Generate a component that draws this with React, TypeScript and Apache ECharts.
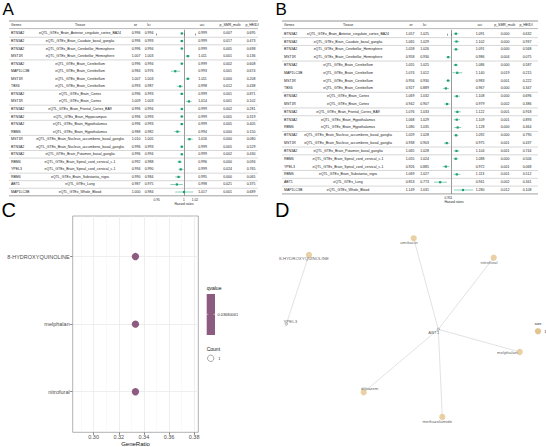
import React, { useEffect, useRef } from 'react';
import * as echarts from 'echarts';

const FONT = "'Liberation Sans', Arial, Helvetica, sans-serif";

// ---------------- Panel A (forest table) ----------------
const genesA = ['BTN3A2', 'BTN3A2', 'BTN3A2', 'MST1R', 'BTN3A2', 'MAP1LC3B', 'MST1R', 'TBX6', 'BTN3A2', 'MST1R', 'BTN3A2', 'BTN3A2', 'BTN3A2', 'RBM6', 'MST1R', 'BTN3A2', 'BTN3A2', 'RBM6', 'YPEL3', 'RBM6', 'ABT1', 'MAP1LC3B'];
const tissueA = [
  'eQTL_GTEx_Brain_Anterior_cingulate_cortex_BA24',
  'eQTL_GTEx_Brain_Caudate_basal_ganglia',
  'eQTL_GTEx_Brain_Cerebellar_Hemisphere',
  'eQTL_GTEx_Brain_Cerebellar_Hemisphere',
  'eQTL_GTEx_Brain_Cerebellum',
  'eQTL_GTEx_Brain_Cerebellum',
  'eQTL_GTEx_Brain_Cerebellum',
  'eQTL_GTEx_Brain_Cerebellum',
  'eQTL_GTEx_Brain_Cortex',
  'eQTL_GTEx_Brain_Cortex',
  'eQTL_GTEx_Brain_Frontal_Cortex_BA9',
  'eQTL_GTEx_Brain_Hippocampus',
  'eQTL_GTEx_Brain_Hypothalamus',
  'eQTL_GTEx_Brain_Hypothalamus',
  'eQTL_GTEx_Brain_Nucleus_accumbens_basal_ganglia',
  'eQTL_GTEx_Brain_Nucleus_accumbens_basal_ganglia',
  'eQTL_GTEx_Brain_Putamen_basal_ganglia',
  'eQTL_GTEx_Brain_Spinal_cord_cervical_c-1',
  'eQTL_GTEx_Brain_Spinal_cord_cervical_c-1',
  'eQTL_GTEx_Brain_Substantia_nigra',
  'eQTL_GTEx_Lung',
  'eQTL_GTEx_Whole_Blood',
];
const orA = [0.996, 0.996, 0.996, 1.007, 0.996, 0.984, 1.007, 0.993, 0.996, 1.009, 0.996, 0.996, 0.996, 0.988, 1.010, 0.996, 0.996, 0.992, 0.994, 0.990, 0.987, 1.000];
const lciA = [0.994, 0.993, 0.994, 1.003, 0.994, 0.976, 1.003, 0.987, 0.993, 1.003, 0.994, 0.993, 0.993, 0.982, 1.005, 0.993, 0.994, 0.988, 0.990, 0.984, 0.975, 0.984];
const uciA = [0.999, 0.999, 0.999, 1.011, 0.999, 0.993, 1.011, 0.998, 0.999, 1.014, 0.999, 0.999, 0.999, 0.994, 1.016, 0.999, 0.999, 0.996, 0.999, 0.995, 0.998, 1.017];
const pSmrA = [0.007, 0.017, 0.005, 0.001, 0.002, 0.001, 0.000, 0.012, 0.001, 0.001, 0.002, 0.005, 0.005, 0.000, 0.000, 0.005, 0.002, 0.000, 0.024, 0.000, 0.021, 0.001];
const pHeidiA = [0.695, 0.473, 0.698, 0.136, 0.608, 0.674, 0.208, 0.438, 0.871, 0.102, 0.281, 0.319, 0.405, 0.150, 0.080, 0.529, 0.430, 0.094, 0.765, 0.065, 0.375, 0.689];
const ticksA = [0.95, 1, 1.02];

// ---------------- Panel B (forest table) ----------------
const genesB = ['BTN3A2', 'BTN3A2', 'BTN3A2', 'MST1R', 'BTN3A2', 'MAP1LC3B', 'MST1R', 'TBX6', 'BTN3A2', 'MST1R', 'BTN3A2', 'BTN3A2', 'RBM6', 'BTN3A2', 'MST1R', 'BTN3A2', 'RBM6', 'YPEL3', 'RBM6', 'ABT1', 'MAP1LC3B'];
const tissueB = [
  'eQTL_GTEx_Brain_Anterior_cingulate_cortex_BA24',
  'eQTL_GTEx_Brain_Caudate_basal_ganglia',
  'eQTL_GTEx_Brain_Cerebellar_Hemisphere',
  'eQTL_GTEx_Brain_Cerebellar_Hemisphere',
  'eQTL_GTEx_Brain_Cerebellum',
  'eQTL_GTEx_Brain_Cerebellum',
  'eQTL_GTEx_Brain_Cerebellum',
  'eQTL_GTEx_Brain_Cerebellum',
  'eQTL_GTEx_Brain_Cortex',
  'eQTL_GTEx_Brain_Cortex',
  'eQTL_GTEx_Brain_Frontal_Cortex_BA9',
  'eQTL_GTEx_Brain_Hypothalamus',
  'eQTL_GTEx_Brain_Hypothalamus',
  'eQTL_GTEx_Brain_Nucleus_accumbens_basal_ganglia',
  'eQTL_GTEx_Brain_Nucleus_accumbens_basal_ganglia',
  'eQTL_GTEx_Brain_Putamen_basal_ganglia',
  'eQTL_GTEx_Brain_Spinal_cord_cervical_c-1',
  'eQTL_GTEx_Brain_Spinal_cord_cervical_c-1',
  'eQTL_GTEx_Brain_Substantia_nigra',
  'eQTL_GTEx_Lung',
  'eQTL_GTEx_Whole_Blood',
];
const orB = [1.057, 1.065, 1.058, 0.958, 1.055, 1.074, 0.956, 0.927, 1.069, 0.942, 1.076, 1.068, 1.080, 1.059, 0.938, 1.065, 1.055, 0.926, 1.069, 0.853, 1.149];
const lciB = [1.025, 1.029, 1.026, 0.930, 1.025, 1.012, 0.930, 0.889, 1.032, 0.907, 1.033, 1.029, 1.035, 1.028, 0.903, 1.028, 1.024, 0.885, 1.027, 0.773, 1.031];
const uciB = [1.091, 1.102, 1.091, 0.986, 1.086, 1.140, 0.983, 0.967, 1.108, 0.979, 1.122, 1.109, 1.128, 1.092, 0.975, 1.104, 1.088, 0.972, 1.113, 0.941, 1.280];
const pSmrB = [0.000, 0.000, 0.000, 0.004, 0.000, 0.019, 0.001, 0.000, 0.000, 0.002, 0.001, 0.001, 0.000, 0.000, 0.001, 0.001, 0.000, 0.001, 0.001, 0.002, 0.012];
const pHeidiB = [0.632, 0.937, 0.568, 0.075, 0.587, 0.215, 0.222, 0.347, 0.696, 0.386, 0.918, 0.893, 0.464, 0.790, 0.437, 0.744, 0.506, 0.068, 0.512, 0.341, 0.108];
const ticksB = [0.95, 1];

const tableHeaders = ['Genes', 'Tissue', 'or', 'lci', 'uci', 'p_SMR_multi', 'p_HEIDI'];

// ---------------- Panel C (dot plot) ----------------
const drugs = ['8-HYDROXYQUINOLINE', 'melphalan', 'nitrofural'];
const geneRatio = [0.3333, 0.3333, 0.3333];
const qvalues = [0.03680061, 0.03680061, 0.03680061];
const counts = [1, 1, 1];
const ratioTicks = [0.30, 0.32, 0.34, 0.36, 0.38];
const ratioMinor = [0.29, 0.31, 0.33, 0.35, 0.37];

// ---------------- Panel D (network) ----------------
const netNodes = ['8-HYDROXYQUINOLINE', 'YPEL3', 'amikacin', 'nitrofural', 'ABT1', 'melphalan', 'diltiazem', 'methazolamide'];
const netIsGene = [false, true, false, false, true, false, false, false];
const netX = [36, 13.3, 140.7, 220.7, 165.3, 246.7, 90.7, 169.3];
const netY = [40, 109, 23.3, 42.7, 114.3, 137, 177.3, 202];
const netEdges: [string, string][] = [
  ['8-HYDROXYQUINOLINE', 'YPEL3'],
  ['ABT1', 'amikacin'],
  ['ABT1', 'nitrofural'],
  ['ABT1', 'melphalan'],
  ['ABT1', 'diltiazem'],
  ['ABT1', 'methazolamide'],
];
// label offsets (style only)
const netLabelOffset: [number, number][] = [[-5, 3.7], [4, -2.7], [-4.7, 4.4], [-4.7, 4.3], [-4.6, 3.4], [-12.5, 0], [6, -3.6], [-5, 4]];

const GREEN = '#1B9E77';
const MAUVE = '#8D5B7F';
const TAN = '#E3C48E';

const tx = (x: number, y: number, text: string, align = 'center', size = 3.5, fill = '#222') => ({
  type: 'text',
  x,
  y,
  silent: true,
  style: { text, fontSize: size, fontFamily: FONT, fill, align, verticalAlign: 'middle' },
});

type Rows = { genes: string[]; tissue: string[]; or: number[]; lci: number[]; uci: number[]; smr: number[]; heidi: number[]; ticks: number[] };
type Layout = {
  tableLeft: number; tableRight: number; genesX: number; tissueX: number; orX: number; lciX: number; uciX: number; smrX: number; heidiX: number;
  hdr: number[]; headerY: number; topLine: number; headLine: number;
  gridLeft: number; gridW: number; gridTop: number; rowStep: number; xMin: number; xMax: number;
};

function forestParts(idx: number, rows: Rows, L: Layout) {
  const n = rows.genes.length;
  const fmt = (v: number) => v.toFixed(3);
  const grid = { left: L.gridLeft, top: L.gridTop, width: L.gridW, height: L.rowStep * n, containLabel: false, outerBoundsMode: 'none' };
  const xAxis = {
    gridIndex: idx,
    type: 'value',
    min: L.xMin,
    max: L.xMax,
    axisLine: { show: false },
    splitLine: { show: false },
    axisTick: { show: true, customValues: rows.ticks, length: 2, lineStyle: { color: '#333', width: 0.5 } },
    axisLabel: { show: true, customValues: rows.ticks, formatter: (v: number) => String(v), fontSize: 3.2, color: '#222', fontFamily: FONT, margin: 2.2, hideOverlap: false },
    name: 'Hazard ratios',
    nameLocation: 'middle',
    nameGap: 6.5,
    nameTextStyle: { fontSize: 3.2, color: '#222', fontFamily: FONT },
  };
  const yAxis = { gridIndex: idx, type: 'value', min: -0.5, max: n - 0.5, inverse: true, show: false };
  const textSeries = {
    type: 'custom',
    xAxisIndex: idx,
    yAxisIndex: idx,
    silent: true,
    clip: false,
    data: rows.genes.map((_, i) => [1, i]),
    encode: { x: 0, y: 1 },
    renderItem: (_p: any, api: any) => {
      const i = api.value(1);
      const y = api.coord([1, i])[1];
      const yb = api.coord([1, i + 0.5])[1];
      const c: any[] = [
        tx(L.genesX, y, rows.genes[i], 'left'),
        tx(L.tissueX, y, rows.tissue[i]),
        tx(L.orX, y, fmt(rows.or[i])),
        tx(L.lciX, y, fmt(rows.lci[i])),
        tx(L.uciX, y, fmt(rows.uci[i])),
        tx(L.smrX, y, fmt(rows.smr[i])),
        tx(L.heidiX, y, fmt(rows.heidi[i])),
      ];
      const last = i === n - 1;
      if (last || rows.tissue[i] !== rows.tissue[i + 1]) {
        c.push({
          type: 'line',
          silent: true,
          shape: { x1: L.tableLeft, y1: yb, x2: L.tableRight, y2: yb },
          style: { stroke: last ? '#777' : '#AFAFAF', lineWidth: last ? 0.7 : 0.5 },
        });
      }
      return { type: 'group', children: c };
    },
  };
  const markSeries = {
    type: 'custom',
    xAxisIndex: idx,
    yAxisIndex: idx,
    silent: true,
    clip: false,
    z: 3,
    data: rows.or.map((v, i) => [v, rows.lci[i], rows.uci[i], i]),
    encode: { x: [0, 1, 2], y: 3 },
    renderItem: (_p: any, api: any) => {
      const i = api.value(3);
      const p = api.coord([api.value(0), i]);
      const l = api.coord([api.value(1), i]);
      const u = api.coord([api.value(2), i]);
      const s = 2.2;
      return {
        type: 'group',
        children: [
          { type: 'line', shape: { x1: l[0], y1: l[1], x2: u[0], y2: u[1] }, style: { stroke: GREEN, lineWidth: 0.5 } },
          { type: 'rect', shape: { x: p[0] - s / 2, y: p[1] - s / 2, width: s, height: s }, style: { fill: GREEN } },
        ],
      };
    },
    markLine: {
      silent: true,
      z: 2,
      symbol: ['none', 'none'],
      label: { show: false },
      lineStyle: { color: '#555', width: 0.6, type: 'solid' },
      data: [{ xAxis: 1 }],
    },
  };
  const xs = [L.genesX, L.tissueX, L.hdr[0], L.hdr[1], L.hdr[2], L.hdr[3], L.hdr[4]];
  const graphics: any[] = tableHeaders.map((h, k) => tx(xs[k], L.headerY, h, k === 0 ? 'left' : 'center'));
  graphics.push({ type: 'line', silent: true, shape: { x1: L.tableLeft, y1: L.topLine, x2: L.tableRight, y2: L.topLine }, style: { stroke: '#777', lineWidth: 0.8 } });
  graphics.push({ type: 'line', silent: true, shape: { x1: L.tableLeft, y1: L.headLine, x2: L.tableRight, y2: L.headLine }, style: { stroke: '#888', lineWidth: 0.6 } });
  return { grid, xAxis, yAxis, series: [textSeries, markSeries], graphics };
}

function buildOption() {
  const A = forestParts(
    0,
    { genes: genesA, tissue: tissueA, or: orA, lci: lciA, uci: uciA, smr: pSmrA, heidi: pHeidiA, ticks: ticksA },
    {
      tableLeft: 9, tableRight: 258, genesX: 11, tissueX: 80, orX: 136, lciX: 149, uciX: 202.5, smrX: 227.5, heidiX: 251,
      hdr: [135.5, 149, 202, 230, 252], headerY: 25, topLine: 21, headLine: 28.6,
      gridLeft: 155, gridW: 58, gridTop: 29.7, rowStep: 7.55, xMin: 0.947, xMax: 1.053,
    }
  );
  const B = forestParts(
    1,
    { genes: genesB, tissue: tissueB, or: orB, lci: lciB, uci: uciB, smr: pSmrB, heidi: pHeidiB, ticks: ticksB },
    {
      tableLeft: 282, tableRight: 538, genesX: 284, tissueX: 348, orX: 410, lciX: 424.5, uciX: 480, smrX: 505, heidiX: 527,
      hdr: [411, 424.7, 479.7, 504.7, 526], headerY: 25, topLine: 21, headLine: 28.6,
      gridLeft: 432, gridW: 44, gridTop: 29.8, rowStep: 7.815, xMin: 0.7468, xMax: 1.318,
    }
  );

  // ---- Panel C ----
  const gridC = { left: 72.7, top: 216, width: 125.6, height: 216.3, show: true, borderColor: '#9E9E9E', borderWidth: 0.8, backgroundColor: 'transparent', containLabel: false, outerBoundsMode: 'none' };
  const xAxisC = {
    gridIndex: 2,
    type: 'value',
    min: 0.283333,
    max: 0.383333,
    axisLine: { show: false },
    splitLine: { show: false },
    axisTick: { show: true, customValues: ratioTicks, length: 2.5, lineStyle: { color: '#333', width: 0.6 } },
    axisLabel: { customValues: ratioTicks, formatter: (v: number) => v.toFixed(2), fontSize: 5.5, color: '#4D4D4D', fontFamily: FONT, margin: 2, hideOverlap: false },
    name: 'GeneRatio',
    nameLocation: 'middle',
    nameGap: 8.5,
    nameTextStyle: { fontSize: 6, color: '#111', fontFamily: FONT },
  };
  const yAxisC = {
    gridIndex: 2,
    type: 'value',
    min: 0.4,
    max: 3.6,
    inverse: true,
    axisLine: { show: false },
    splitLine: { show: false },
    axisTick: { show: true, customValues: [1, 2, 3], length: 2.5, lineStyle: { color: '#333', width: 0.6 } },
    axisLabel: { customValues: [1, 2, 3], formatter: (v: number) => drugs[Math.round(v) - 1] ?? '', fontSize: 5.5, color: '#4D4D4D', fontFamily: FONT, margin: 3, hideOverlap: false },
  };
  const gridLinesC = {
    type: 'scatter',
    xAxisIndex: 2,
    yAxisIndex: 2,
    data: [],
    silent: true,
    markLine: {
      silent: true,
      z: 1,
      symbol: ['none', 'none'],
      label: { show: false },
      data: [
        ...ratioMinor.map((v) => ({ xAxis: v, lineStyle: { color: '#F3F3F3', width: 0.5, type: 'solid' } })),
        ...ratioTicks.map((v) => ({ xAxis: v, lineStyle: { color: '#EAEAEA', width: 0.8, type: 'solid' } })),
        ...drugs.map((_, i) => ({ yAxis: i + 1, lineStyle: { color: '#EAEAEA', width: 0.8, type: 'solid' } })),
      ],
    },
  };
  const dotsC = {
    type: 'scatter',
    xAxisIndex: 2,
    yAxisIndex: 2,
    z: 3,
    silent: true,
    symbol: 'circle',
    symbolSize: (v: number[]) => 7.3 * Math.sqrt(counts[Math.round(v[1]) - 1]),
    itemStyle: { color: MAUVE, opacity: 1 },
    data: drugs.map((d, i) => ({ name: d, value: [geneRatio[i], i + 1, qvalues[i]] })),
  };

  // ---- Panel D ----
  const gridD = { left: 273, top: 215, width: 273, height: 232, show: false, containLabel: false, outerBoundsMode: 'none' };
  const xAxisD = { gridIndex: 3, type: 'value', min: 0, max: 273, show: false };
  const yAxisD = { gridIndex: 3, type: 'value', min: 0, max: 232, inverse: true, show: false };
  const edgesD = {
    type: 'lines',
    coordinateSystem: 'cartesian2d',
    xAxisIndex: 3,
    yAxisIndex: 3,
    silent: true,
    z: 1,
    lineStyle: { color: '#CFCFCF', width: 0.6, opacity: 1 },
    data: netEdges.map(([a, b]) => {
      const i = netNodes.indexOf(a);
      const j = netNodes.indexOf(b);
      return { coords: [[netX[i], netY[i]], [netX[j], netY[j]]] };
    }),
  };
  const nodesD = {
    type: 'scatter',
    xAxisIndex: 3,
    yAxisIndex: 3,
    silent: true,
    z: 3,
    clip: false,
    data: netNodes.map((name, i) => ({
      name,
      value: [netX[i], netY[i]],
      symbolSize: netIsGene[i] ? 2.6 : 6.2,
      itemStyle: netIsGene[i] ? { color: '#E0E0E0', borderColor: '#555', borderWidth: 0.4 } : { color: TAN },
      label: {
        show: true,
        formatter: '{b}',
        position: 'inside',
        offset: netLabelOffset[i],
        fontSize: 4.4,
        color: '#333',
        fontFamily: FONT,
      },
    })),
  };

  const graphics: any[] = [
    ...A.graphics,
    ...B.graphics,
    // panel letters
    { type: 'text', x: 2.5, y: 9, silent: true, style: { text: 'A', fontSize: 17, fontFamily: FONT, fill: '#000', verticalAlign: 'middle' } },
    { type: 'text', x: 275.5, y: 9, silent: true, style: { text: 'B', fontSize: 17, fontFamily: FONT, fill: '#000', verticalAlign: 'middle' } },
    { type: 'text', x: 1.5, y: 209.5, silent: true, style: { text: 'C', fontSize: 20, fontFamily: FONT, fill: '#000', verticalAlign: 'middle' } },
    { type: 'text', x: 275, y: 209.5, silent: true, style: { text: 'D', fontSize: 20, fontFamily: FONT, fill: '#000', verticalAlign: 'middle' } },
    // C legend
    tx(206.7, 287.7, 'qvalue', 'left', 5, '#111'),
    { type: 'rect', silent: true, shape: { x: 206.7, y: 294, width: 8.3, height: 41 }, style: { fill: MAUVE } },
    { type: 'line', silent: true, shape: { x1: 206.7, y1: 314.3, x2: 208.3, y2: 314.3 }, style: { stroke: '#fff', lineWidth: 0.5 } },
    { type: 'line', silent: true, shape: { x1: 213.4, y1: 314.3, x2: 215, y2: 314.3 }, style: { stroke: '#fff', lineWidth: 0.5 } },
    tx(217.5, 314.3, String(qvalues[0]), 'left', 3.9, '#333'),
    tx(206.7, 349, 'Count', 'left', 5, '#111'),
    { type: 'circle', silent: true, shape: { cx: 210.7, cy: 358.3, r: 3.2 }, style: { fill: '#fff', stroke: '#555', lineWidth: 0.5 } },
    tx(218.3, 358.3, String(counts[0]), 'left', 3.9, '#333'),
    // D legend
    tx(538, 323.3, 'size', 'center', 4, '#333'),
    { type: 'circle', silent: true, shape: { cx: 538, cy: 331.3, r: 3.1 }, style: { fill: TAN } },
    tx(544.3, 331.3, '1', 'left', 4, '#333'),
  ];

  return {
    animation: false,
    backgroundColor: '#fff',
    grid: [A.grid, B.grid, gridC, gridD],
    xAxis: [A.xAxis, B.xAxis, xAxisC, xAxisD],
    yAxis: [A.yAxis, B.yAxis, yAxisC, yAxisD],
    series: [...A.series, ...B.series, gridLinesC, dotsC, edgesD, nodesD],
    graphic: { elements: graphics },
  };
}

export default function App() {
  const ref = useRef<HTMLDivElement>(null);
  useEffect(() => {
    if (!ref.current) return;
    const chart = echarts.init(ref.current, undefined, { renderer: 'svg' });
    chart.setOption(buildOption() as any);
    return () => chart.dispose();
  }, []);
  return <div ref={ref} style={{ position: 'absolute', left: 0, top: 0, width: 546, height: 447, background: '#fff' }} />;
}
